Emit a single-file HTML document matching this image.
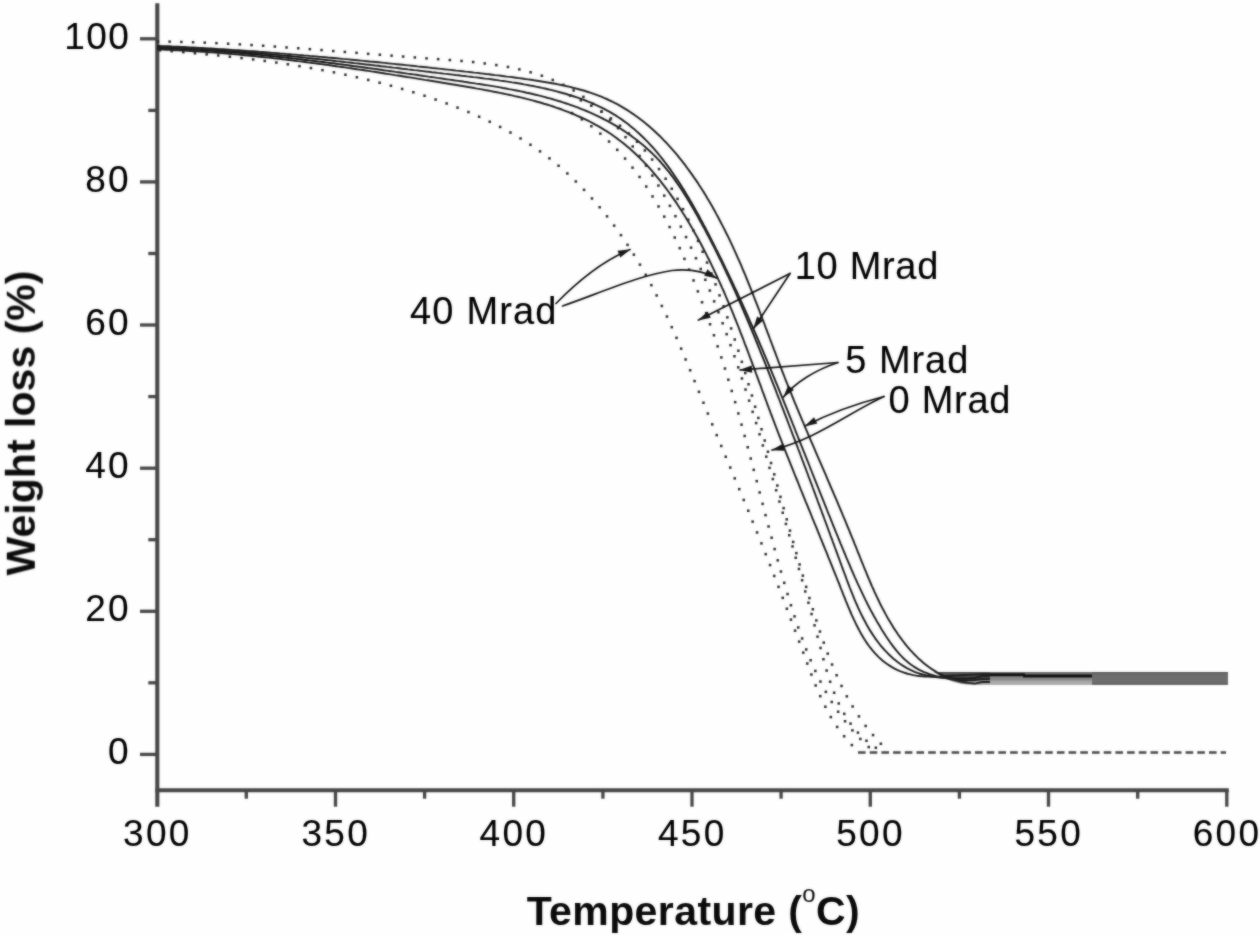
<!DOCTYPE html>
<html lang="en"><head><meta charset="utf-8"><title>Weight loss vs Temperature</title>
<style>html,body{margin:0;padding:0;background:#fff;overflow:hidden}svg{display:block}text{font-family:"Liberation Sans",sans-serif;fill:#000;stroke:#000;stroke-width:0.12px}.tk{font-size:37px;letter-spacing:2.3px}.lb{font-size:38px}.ti{font-size:41px;font-weight:bold;fill:#0a0a0a;stroke:none}</style></head><body>
<svg width="1260" height="935" viewBox="0 0 1260 935">
<defs><filter id="b" x="-2%" y="-2%" width="104%" height="104%" color-interpolation-filters="sRGB"><feGaussianBlur in="SourceGraphic" stdDeviation="0.9" result="bl"/><feComposite in="SourceGraphic" in2="bl" operator="arithmetic" k1="0" k2="0.45" k3="0.55" k4="0"/></filter><filter id="t" x="-2%" y="-2%" width="104%" height="104%" color-interpolation-filters="sRGB"><feGaussianBlur in="SourceGraphic" stdDeviation="0.9" result="bl"/><feComposite in="SourceGraphic" in2="bl" operator="arithmetic" k1="0" k2="0.5" k3="0.5" k4="0"/></filter></defs>
<rect width="1260" height="935" fill="#fefefe"/>
<g filter="url(#b)">
<g stroke="#464646" stroke-width="3.3" fill="none" stroke-linecap="butt">
<path d="M157.3 3.2V806.7" stroke-width="4.1"/>
<path d="M155.3 790.2H1228.8" stroke-width="4.1"/>
<path d="M140.0 38.8H157.3"/>
<path d="M140.0 181.9H157.3"/>
<path d="M140.0 325.0H157.3"/>
<path d="M140.0 468.2H157.3"/>
<path d="M140.0 611.3H157.3"/>
<path d="M140.0 754.4H157.3"/>
<path d="M148.3 110.4H157.3"/>
<path d="M148.3 253.5H157.3"/>
<path d="M148.3 396.6H157.3"/>
<path d="M148.3 539.7H157.3"/>
<path d="M148.3 682.8H157.3"/>
<path d="M335.5 790.2V806.7"/>
<path d="M513.7 790.2V806.7"/>
<path d="M692.0 790.2V806.7"/>
<path d="M870.3 790.2V806.7"/>
<path d="M1048.5 790.2V806.7"/>
<path d="M1226.8 790.2V806.7"/>
<path d="M246.3 790.2V798.7"/>
<path d="M424.6 790.2V798.7"/>
<path d="M602.9 790.2V798.7"/>
<path d="M781.1 790.2V798.7"/>
<path d="M959.4 790.2V798.7"/>
<path d="M1137.7 790.2V798.7"/>
</g>
<path d="M934 672.0 L1228 672.0 L1228 684.6 L970 684.6 C957 684 945 679.5 934 672.0Z" fill="#6d6d6d"/>
<path d="M934 672.0 L990 672.0 L990 680.5 L958 680.5 C949 679 941 676 934 672.0Z" fill="#4e4e4e"/>
<rect x="990" y="677.2" width="102" height="3.6" fill="#8a8a8a"/>
<path d="M966 680.6H1092V684.6H972C969.5 683.6 967.5 682.2 966 680.6Z" fill="#a9a9a9"/>
<path d="M1092 672.7H1228M1092 684H1228" stroke="#585858" stroke-width="1.4" fill="none"/>
<path d="M989 674.6H1025" stroke="#101010" stroke-width="2.6" fill="none"/>
<path d="M1023 676.0H1092" stroke="#101010" stroke-width="3.0" fill="none"/>
<g fill="#262626">
<rect x="158.7" y="49.0" width="2.5" height="2.5"/>
<rect x="170.4" y="49.9" width="2.5" height="2.5"/>
<rect x="182.1" y="50.9" width="2.5" height="2.5"/>
<rect x="193.7" y="52.0" width="2.5" height="2.5"/>
<rect x="205.4" y="53.1" width="2.5" height="2.5"/>
<rect x="217.0" y="54.2" width="2.5" height="2.5"/>
<rect x="228.6" y="55.5" width="2.5" height="2.5"/>
<rect x="240.3" y="56.8" width="2.5" height="2.5"/>
<rect x="251.9" y="58.2" width="2.5" height="2.5"/>
<rect x="263.5" y="59.7" width="2.5" height="2.5"/>
<rect x="275.1" y="61.3" width="2.5" height="2.5"/>
<rect x="286.6" y="63.0" width="2.5" height="2.5"/>
<rect x="298.2" y="64.9" width="2.5" height="2.5"/>
<rect x="309.7" y="66.8" width="2.5" height="2.5"/>
<rect x="321.2" y="68.9" width="2.5" height="2.5"/>
<rect x="332.7" y="71.1" width="2.5" height="2.5"/>
<rect x="344.2" y="73.5" width="2.5" height="2.5"/>
<rect x="355.6" y="76.0" width="2.5" height="2.5"/>
<rect x="367.0" y="78.7" width="2.5" height="2.5"/>
<rect x="378.4" y="81.5" width="2.5" height="2.5"/>
<rect x="389.7" y="84.5" width="2.5" height="2.5"/>
<rect x="400.9" y="87.7" width="2.5" height="2.5"/>
<rect x="412.1" y="91.0" width="2.5" height="2.5"/>
<rect x="423.3" y="94.5" width="2.5" height="2.5"/>
<rect x="434.4" y="98.3" width="2.5" height="2.5"/>
<rect x="445.4" y="102.2" width="2.5" height="2.5"/>
<rect x="456.3" y="106.4" width="2.5" height="2.5"/>
<rect x="467.2" y="110.8" width="2.5" height="2.5"/>
<rect x="477.9" y="115.5" width="2.5" height="2.5"/>
<rect x="488.5" y="120.5" width="2.5" height="2.5"/>
<rect x="498.9" y="125.7" width="2.5" height="2.5"/>
<rect x="509.2" y="131.3" width="2.5" height="2.5"/>
<rect x="519.3" y="137.2" width="2.5" height="2.5"/>
<rect x="529.2" y="143.5" width="2.5" height="2.5"/>
<rect x="538.8" y="150.1" width="2.5" height="2.5"/>
<rect x="548.2" y="157.1" width="2.5" height="2.5"/>
<rect x="557.3" y="164.5" width="2.5" height="2.5"/>
<rect x="566.1" y="172.2" width="2.5" height="2.5"/>
<rect x="574.6" y="180.2" width="2.5" height="2.5"/>
<rect x="582.8" y="188.6" width="2.5" height="2.5"/>
<rect x="590.7" y="197.2" width="2.5" height="2.5"/>
<rect x="598.4" y="206.0" width="2.5" height="2.5"/>
<rect x="605.8" y="215.1" width="2.5" height="2.5"/>
<rect x="612.9" y="224.4" width="2.5" height="2.5"/>
<rect x="619.7" y="233.9" width="2.5" height="2.5"/>
<rect x="626.3" y="243.6" width="2.5" height="2.5"/>
<rect x="632.6" y="253.4" width="2.5" height="2.5"/>
<rect x="638.7" y="263.4" width="2.5" height="2.5"/>
<rect x="644.5" y="273.6" width="2.5" height="2.5"/>
<rect x="650.1" y="283.9" width="2.5" height="2.5"/>
<rect x="655.4" y="294.2" width="2.5" height="2.5"/>
<rect x="660.6" y="304.7" width="2.5" height="2.5"/>
<rect x="665.7" y="315.3" width="2.5" height="2.5"/>
<rect x="670.5" y="325.9" width="2.5" height="2.5"/>
<rect x="675.3" y="336.6" width="2.5" height="2.5"/>
<rect x="679.9" y="347.4" width="2.5" height="2.5"/>
<rect x="684.4" y="358.2" width="2.5" height="2.5"/>
<rect x="688.9" y="369.0" width="2.5" height="2.5"/>
<rect x="693.3" y="379.8" width="2.5" height="2.5"/>
<rect x="697.7" y="390.6" width="2.5" height="2.5"/>
<rect x="702.2" y="401.5" width="2.5" height="2.5"/>
<rect x="706.6" y="412.3" width="2.5" height="2.5"/>
<rect x="711.0" y="423.1" width="2.5" height="2.5"/>
<rect x="715.5" y="433.9" width="2.5" height="2.5"/>
<rect x="720.0" y="444.7" width="2.5" height="2.5"/>
<rect x="724.5" y="455.5" width="2.5" height="2.5"/>
<rect x="729.0" y="466.3" width="2.5" height="2.5"/>
<rect x="733.5" y="477.1" width="2.5" height="2.5"/>
<rect x="738.0" y="487.9" width="2.5" height="2.5"/>
<rect x="742.5" y="498.7" width="2.5" height="2.5"/>
<rect x="747.0" y="509.5" width="2.5" height="2.5"/>
<rect x="751.4" y="520.4" width="2.5" height="2.5"/>
<rect x="755.8" y="531.2" width="2.5" height="2.5"/>
<rect x="760.2" y="542.1" width="2.5" height="2.5"/>
<rect x="764.5" y="552.9" width="2.5" height="2.5"/>
<rect x="768.8" y="563.8" width="2.5" height="2.5"/>
<rect x="773.0" y="574.7" width="2.5" height="2.5"/>
<rect x="777.3" y="585.6" width="2.5" height="2.5"/>
<rect x="781.5" y="596.6" width="2.5" height="2.5"/>
<rect x="785.6" y="607.5" width="2.5" height="2.5"/>
<rect x="789.7" y="618.4" width="2.5" height="2.5"/>
<rect x="793.8" y="629.4" width="2.5" height="2.5"/>
<rect x="797.9" y="640.4" width="2.5" height="2.5"/>
<rect x="802.0" y="651.4" width="2.5" height="2.5"/>
<rect x="806.0" y="662.3" width="2.5" height="2.5"/>
<rect x="810.1" y="673.3" width="2.5" height="2.5"/>
<rect x="814.4" y="684.2" width="2.5" height="2.5"/>
<rect x="819.0" y="694.9" width="2.5" height="2.5"/>
<rect x="824.1" y="705.5" width="2.5" height="2.5"/>
<rect x="829.6" y="715.8" width="2.5" height="2.5"/>
<rect x="835.9" y="725.7" width="2.5" height="2.5"/>
<rect x="842.9" y="735.0" width="2.5" height="2.5"/>
<rect x="850.6" y="743.8" width="2.5" height="2.5"/>
<rect x="570.8" y="111.8" width="2.5" height="2.5"/>
<rect x="580.6" y="118.1" width="2.5" height="2.5"/>
<rect x="590.1" y="125.0" width="2.5" height="2.5"/>
<rect x="599.1" y="132.4" width="2.5" height="2.5"/>
<rect x="607.8" y="140.3" width="2.5" height="2.5"/>
<rect x="616.0" y="148.6" width="2.5" height="2.5"/>
<rect x="623.8" y="157.3" width="2.5" height="2.5"/>
<rect x="631.3" y="166.4" width="2.5" height="2.5"/>
<rect x="638.3" y="175.7" width="2.5" height="2.5"/>
<rect x="645.0" y="185.3" width="2.5" height="2.5"/>
<rect x="651.3" y="195.2" width="2.5" height="2.5"/>
<rect x="657.3" y="205.2" width="2.5" height="2.5"/>
<rect x="663.0" y="215.4" width="2.5" height="2.5"/>
<rect x="668.4" y="225.8" width="2.5" height="2.5"/>
<rect x="673.5" y="236.3" width="2.5" height="2.5"/>
<rect x="678.5" y="246.9" width="2.5" height="2.5"/>
<rect x="683.2" y="257.6" width="2.5" height="2.5"/>
<rect x="687.8" y="268.4" width="2.5" height="2.5"/>
<rect x="692.3" y="279.2" width="2.5" height="2.5"/>
<rect x="696.6" y="290.1" width="2.5" height="2.5"/>
<rect x="700.8" y="301.0" width="2.5" height="2.5"/>
<rect x="704.9" y="311.9" width="2.5" height="2.5"/>
<rect x="708.8" y="323.0" width="2.5" height="2.5"/>
<rect x="712.7" y="334.0" width="2.5" height="2.5"/>
<rect x="716.4" y="345.1" width="2.5" height="2.5"/>
<rect x="720.1" y="356.2" width="2.5" height="2.5"/>
<rect x="723.7" y="367.3" width="2.5" height="2.5"/>
<rect x="727.1" y="378.5" width="2.5" height="2.5"/>
<rect x="730.5" y="389.7" width="2.5" height="2.5"/>
<rect x="733.9" y="400.9" width="2.5" height="2.5"/>
<rect x="737.1" y="412.2" width="2.5" height="2.5"/>
<rect x="740.3" y="423.4" width="2.5" height="2.5"/>
<rect x="743.4" y="434.7" width="2.5" height="2.5"/>
<rect x="746.5" y="446.0" width="2.5" height="2.5"/>
<rect x="749.5" y="457.3" width="2.5" height="2.5"/>
<rect x="752.5" y="468.6" width="2.5" height="2.5"/>
<rect x="755.5" y="479.9" width="2.5" height="2.5"/>
<rect x="758.4" y="491.2" width="2.5" height="2.5"/>
<rect x="761.4" y="502.6" width="2.5" height="2.5"/>
<rect x="764.3" y="513.9" width="2.5" height="2.5"/>
<rect x="767.3" y="525.2" width="2.5" height="2.5"/>
<rect x="770.4" y="536.5" width="2.5" height="2.5"/>
<rect x="773.4" y="547.8" width="2.5" height="2.5"/>
<rect x="776.5" y="559.1" width="2.5" height="2.5"/>
<rect x="779.7" y="570.3" width="2.5" height="2.5"/>
<rect x="783.0" y="581.6" width="2.5" height="2.5"/>
<rect x="786.3" y="592.8" width="2.5" height="2.5"/>
<rect x="789.7" y="604.0" width="2.5" height="2.5"/>
<rect x="793.3" y="615.1" width="2.5" height="2.5"/>
<rect x="797.0" y="626.2" width="2.5" height="2.5"/>
<rect x="800.9" y="637.2" width="2.5" height="2.5"/>
<rect x="805.0" y="648.2" width="2.5" height="2.5"/>
<rect x="809.4" y="659.0" width="2.5" height="2.5"/>
<rect x="814.1" y="669.7" width="2.5" height="2.5"/>
<rect x="819.2" y="680.3" width="2.5" height="2.5"/>
<rect x="824.6" y="690.6" width="2.5" height="2.5"/>
<rect x="830.5" y="700.7" width="2.5" height="2.5"/>
<rect x="836.9" y="710.5" width="2.5" height="2.5"/>
<rect x="843.8" y="720.0" width="2.5" height="2.5"/>
<rect x="851.2" y="729.1" width="2.5" height="2.5"/>
<rect x="859.1" y="737.7" width="2.5" height="2.5"/>
<rect x="867.5" y="745.8" width="2.5" height="2.5"/>
<rect x="156.7" y="40.3" width="2.5" height="2.5"/>
<rect x="168.4" y="40.4" width="2.5" height="2.5"/>
<rect x="180.1" y="40.7" width="2.5" height="2.5"/>
<rect x="191.8" y="41.0" width="2.5" height="2.5"/>
<rect x="203.5" y="41.4" width="2.5" height="2.5"/>
<rect x="215.2" y="41.9" width="2.5" height="2.5"/>
<rect x="226.9" y="42.5" width="2.5" height="2.5"/>
<rect x="238.6" y="43.1" width="2.5" height="2.5"/>
<rect x="250.3" y="43.8" width="2.5" height="2.5"/>
<rect x="261.9" y="44.5" width="2.5" height="2.5"/>
<rect x="273.6" y="45.3" width="2.5" height="2.5"/>
<rect x="285.3" y="46.2" width="2.5" height="2.5"/>
<rect x="297.0" y="47.0" width="2.5" height="2.5"/>
<rect x="308.6" y="47.9" width="2.5" height="2.5"/>
<rect x="320.3" y="48.8" width="2.5" height="2.5"/>
<rect x="332.0" y="49.8" width="2.5" height="2.5"/>
<rect x="343.6" y="50.7" width="2.5" height="2.5"/>
<rect x="355.3" y="51.6" width="2.5" height="2.5"/>
<rect x="366.9" y="52.6" width="2.5" height="2.5"/>
<rect x="378.6" y="53.5" width="2.5" height="2.5"/>
<rect x="390.3" y="54.4" width="2.5" height="2.5"/>
<rect x="401.9" y="55.3" width="2.5" height="2.5"/>
<rect x="413.6" y="56.2" width="2.5" height="2.5"/>
<rect x="425.3" y="57.1" width="2.5" height="2.5"/>
<rect x="436.9" y="57.9" width="2.5" height="2.5"/>
<rect x="448.6" y="58.8" width="2.5" height="2.5"/>
<rect x="460.3" y="59.7" width="2.5" height="2.5"/>
<rect x="471.9" y="60.8" width="2.5" height="2.5"/>
<rect x="483.5" y="62.2" width="2.5" height="2.5"/>
<rect x="495.1" y="63.8" width="2.5" height="2.5"/>
<rect x="506.7" y="65.7" width="2.5" height="2.5"/>
<rect x="518.1" y="68.1" width="2.5" height="2.5"/>
<rect x="529.4" y="71.0" width="2.5" height="2.5"/>
<rect x="540.6" y="74.5" width="2.5" height="2.5"/>
<rect x="551.5" y="78.7" width="2.5" height="2.5"/>
<rect x="562.2" y="83.6" width="2.5" height="2.5"/>
<rect x="572.4" y="89.2" width="2.5" height="2.5"/>
<rect x="582.2" y="95.6" width="2.5" height="2.5"/>
<rect x="591.6" y="102.6" width="2.5" height="2.5"/>
<rect x="600.5" y="110.2" width="2.5" height="2.5"/>
<rect x="608.9" y="118.4" width="2.5" height="2.5"/>
<rect x="616.8" y="126.9" width="2.5" height="2.5"/>
<rect x="624.3" y="135.9" width="2.5" height="2.5"/>
<rect x="631.5" y="145.2" width="2.5" height="2.5"/>
<rect x="638.3" y="154.7" width="2.5" height="2.5"/>
<rect x="644.8" y="164.4" width="2.5" height="2.5"/>
<rect x="651.1" y="174.3" width="2.5" height="2.5"/>
<rect x="657.2" y="184.3" width="2.5" height="2.5"/>
<rect x="663.0" y="194.4" width="2.5" height="2.5"/>
<rect x="668.7" y="204.6" width="2.5" height="2.5"/>
<rect x="674.2" y="214.9" width="2.5" height="2.5"/>
<rect x="679.6" y="225.4" width="2.5" height="2.5"/>
<rect x="684.8" y="235.8" width="2.5" height="2.5"/>
<rect x="689.8" y="246.4" width="2.5" height="2.5"/>
<rect x="694.7" y="257.0" width="2.5" height="2.5"/>
<rect x="699.5" y="267.7" width="2.5" height="2.5"/>
<rect x="704.1" y="278.5" width="2.5" height="2.5"/>
<rect x="708.6" y="289.3" width="2.5" height="2.5"/>
<rect x="712.9" y="300.1" width="2.5" height="2.5"/>
<rect x="717.2" y="311.0" width="2.5" height="2.5"/>
<rect x="721.4" y="322.0" width="2.5" height="2.5"/>
<rect x="725.4" y="332.9" width="2.5" height="2.5"/>
<rect x="729.3" y="343.9" width="2.5" height="2.5"/>
<rect x="733.2" y="355.0" width="2.5" height="2.5"/>
<rect x="737.0" y="366.1" width="2.5" height="2.5"/>
<rect x="740.7" y="377.2" width="2.5" height="2.5"/>
<rect x="744.3" y="388.3" width="2.5" height="2.5"/>
<rect x="747.9" y="399.4" width="2.5" height="2.5"/>
<rect x="751.4" y="410.6" width="2.5" height="2.5"/>
<rect x="754.9" y="421.8" width="2.5" height="2.5"/>
<rect x="758.3" y="433.0" width="2.5" height="2.5"/>
<rect x="761.6" y="444.2" width="2.5" height="2.5"/>
<rect x="765.0" y="455.4" width="2.5" height="2.5"/>
<rect x="768.3" y="466.6" width="2.5" height="2.5"/>
<rect x="771.6" y="477.8" width="2.5" height="2.5"/>
<rect x="774.9" y="489.0" width="2.5" height="2.5"/>
<rect x="778.2" y="500.3" width="2.5" height="2.5"/>
<rect x="781.5" y="511.5" width="2.5" height="2.5"/>
<rect x="784.7" y="522.7" width="2.5" height="2.5"/>
<rect x="788.0" y="534.0" width="2.5" height="2.5"/>
<rect x="791.3" y="545.2" width="2.5" height="2.5"/>
<rect x="794.5" y="556.5" width="2.5" height="2.5"/>
<rect x="797.7" y="567.7" width="2.5" height="2.5"/>
<rect x="800.9" y="579.0" width="2.5" height="2.5"/>
<rect x="804.0" y="590.2" width="2.5" height="2.5"/>
<rect x="807.2" y="601.5" width="2.5" height="2.5"/>
<rect x="810.3" y="612.8" width="2.5" height="2.5"/>
<rect x="813.3" y="624.1" width="2.5" height="2.5"/>
<rect x="816.3" y="635.4" width="2.5" height="2.5"/>
<rect x="819.3" y="646.7" width="2.5" height="2.5"/>
<rect x="822.2" y="658.0" width="2.5" height="2.5"/>
<rect x="825.4" y="669.3" width="2.5" height="2.5"/>
<rect x="828.9" y="680.5" width="2.5" height="2.5"/>
<rect x="832.9" y="691.5" width="2.5" height="2.5"/>
<rect x="837.5" y="702.2" width="2.5" height="2.5"/>
<rect x="843.0" y="712.6" width="2.5" height="2.5"/>
<rect x="849.3" y="722.4" width="2.5" height="2.5"/>
<rect x="856.7" y="731.4" width="2.5" height="2.5"/>
<rect x="865.2" y="739.5" width="2.5" height="2.5"/>
<rect x="874.6" y="746.5" width="2.5" height="2.5"/>
<rect x="568.9" y="94.4" width="2.5" height="2.5"/>
<rect x="579.6" y="99.1" width="2.5" height="2.5"/>
<rect x="590.0" y="104.5" width="2.5" height="2.5"/>
<rect x="600.1" y="110.5" width="2.5" height="2.5"/>
<rect x="609.7" y="117.1" width="2.5" height="2.5"/>
<rect x="618.8" y="124.4" width="2.5" height="2.5"/>
<rect x="627.6" y="132.2" width="2.5" height="2.5"/>
<rect x="635.8" y="140.5" width="2.5" height="2.5"/>
<rect x="643.6" y="149.2" width="2.5" height="2.5"/>
<rect x="650.9" y="158.3" width="2.5" height="2.5"/>
<rect x="657.8" y="167.8" width="2.5" height="2.5"/>
<rect x="664.4" y="177.5" width="2.5" height="2.5"/>
<rect x="670.5" y="187.5" width="2.5" height="2.5"/>
<rect x="676.3" y="197.6" width="2.5" height="2.5"/>
<rect x="681.8" y="207.9" width="2.5" height="2.5"/>
<rect x="687.0" y="218.4" width="2.5" height="2.5"/>
<rect x="692.0" y="229.0" width="2.5" height="2.5"/>
<rect x="696.8" y="239.7" width="2.5" height="2.5"/>
<rect x="701.4" y="250.5" width="2.5" height="2.5"/>
<rect x="705.8" y="261.3" width="2.5" height="2.5"/>
<rect x="710.1" y="272.2" width="2.5" height="2.5"/>
<rect x="714.3" y="283.1" width="2.5" height="2.5"/>
<rect x="718.3" y="294.1" width="2.5" height="2.5"/>
<rect x="722.3" y="305.1" width="2.5" height="2.5"/>
<rect x="726.1" y="316.1" width="2.5" height="2.5"/>
<rect x="729.9" y="327.2" width="2.5" height="2.5"/>
<rect x="733.5" y="338.3" width="2.5" height="2.5"/>
<rect x="737.1" y="349.5" width="2.5" height="2.5"/>
<rect x="740.6" y="360.6" width="2.5" height="2.5"/>
<rect x="744.0" y="371.8" width="2.5" height="2.5"/>
<rect x="747.3" y="383.0" width="2.5" height="2.5"/>
<rect x="750.7" y="394.3" width="2.5" height="2.5"/>
<rect x="753.9" y="405.5" width="2.5" height="2.5"/>
<rect x="757.1" y="416.7" width="2.5" height="2.5"/>
<rect x="760.3" y="428.0" width="2.5" height="2.5"/>
<rect x="763.5" y="439.3" width="2.5" height="2.5"/>
<rect x="766.7" y="450.5" width="2.5" height="2.5"/>
<rect x="769.8" y="461.8" width="2.5" height="2.5"/>
<rect x="773.0" y="473.1" width="2.5" height="2.5"/>
<rect x="776.1" y="484.3" width="2.5" height="2.5"/>
<rect x="779.2" y="495.6" width="2.5" height="2.5"/>
<rect x="782.4" y="506.9" width="2.5" height="2.5"/>
<rect x="785.5" y="518.1" width="2.5" height="2.5"/>
<rect x="788.7" y="529.4" width="2.5" height="2.5"/>
<rect x="791.9" y="540.7" width="2.5" height="2.5"/>
<rect x="795.1" y="551.9" width="2.5" height="2.5"/>
<rect x="798.3" y="563.2" width="2.5" height="2.5"/>
<rect x="801.6" y="574.4" width="2.5" height="2.5"/>
<rect x="804.9" y="585.6" width="2.5" height="2.5"/>
<rect x="808.2" y="596.8" width="2.5" height="2.5"/>
<rect x="811.6" y="608.0" width="2.5" height="2.5"/>
<rect x="815.1" y="619.2" width="2.5" height="2.5"/>
<rect x="818.7" y="630.3" width="2.5" height="2.5"/>
<rect x="822.5" y="641.4" width="2.5" height="2.5"/>
<rect x="826.5" y="652.4" width="2.5" height="2.5"/>
<rect x="830.8" y="663.3" width="2.5" height="2.5"/>
<rect x="835.4" y="674.0" width="2.5" height="2.5"/>
<rect x="840.3" y="684.7" width="2.5" height="2.5"/>
<rect x="845.6" y="695.1" width="2.5" height="2.5"/>
<rect x="851.4" y="705.2" width="2.5" height="2.5"/>
<rect x="857.7" y="715.1" width="2.5" height="2.5"/>
<rect x="864.4" y="724.7" width="2.5" height="2.5"/>
<rect x="871.8" y="733.8" width="2.5" height="2.5"/>
<rect x="879.6" y="742.5" width="2.5" height="2.5"/>
</g>
<path d="M858 752.5H1226" stroke="#444" stroke-width="2.5" stroke-dasharray="7.6 4.1" fill="none"/>
<g stroke="#1e1e1e" stroke-width="1.95" fill="none" stroke-linejoin="round">
<path d="M157.0 45.8L160.0 45.9L163.0 46.1L166.0 46.2L169.0 46.3L172.0 46.5L175.0 46.6L178.0 46.7L181.0 46.9L184.0 47.0L187.0 47.2L190.0 47.4L193.0 47.5L196.0 47.7L199.0 47.9L202.0 48.0L205.0 48.2L208.0 48.4L211.0 48.5L214.0 48.7L217.0 48.9L220.0 49.1L223.0 49.3L226.0 49.5L229.0 49.7L232.0 49.9L235.0 50.1L238.0 50.3L241.0 50.5L244.0 50.7L247.0 50.9L250.0 51.1L253.0 51.3L256.0 51.5L259.0 51.8L262.0 52.0L265.0 52.2L268.0 52.4L271.0 52.7L274.0 52.9L277.0 53.1L280.0 53.4L283.0 53.6L286.0 53.9L289.0 54.1L292.0 54.4L295.0 54.6L297.9 54.9L300.9 55.1L303.9 55.4L306.9 55.6L309.9 55.9L312.9 56.1L315.9 56.4L318.9 56.7L321.9 56.9L324.9 57.2L327.9 57.5L330.9 57.7L333.9 58.0L336.9 58.3L339.9 58.6L342.9 58.9L345.9 59.1L348.8 59.4L351.8 59.7L354.8 60.0L357.8 60.3L360.8 60.6L363.8 60.9L366.8 61.2L369.8 61.5L372.8 61.7L375.8 62.0L378.7 62.3L381.7 62.6L384.7 62.9L387.7 63.3L390.7 63.6L393.7 63.9L396.7 64.2L399.6 64.5L402.6 64.8L405.6 65.1L408.6 65.4L411.6 65.7L414.6 66.0L417.5 66.4L420.5 66.7L423.5 67.0L426.5 67.3L429.5 67.6L432.4 68.0L435.4 68.3L438.4 68.6L441.4 68.9L444.3 69.3L447.3 69.6L450.3 69.9L453.3 70.2L456.2 70.6L459.2 70.9L462.2 71.2L465.2 71.6L468.1 71.9L471.1 72.2L474.1 72.6L477.1 72.9L480.0 73.3L483.0 73.6L486.0 74.0L489.0 74.3L491.9 74.7L494.9 75.1L497.9 75.4L500.9 75.8L503.9 76.2L506.9 76.6L509.9 76.9L512.9 77.3L515.9 77.7L518.9 78.1L521.9 78.5L524.9 79.0L528.0 79.4L531.0 79.8L534.0 80.3L537.0 80.7L540.1 81.2L543.1 81.7L546.1 82.2L549.1 82.7L552.1 83.2L555.1 83.8L558.1 84.4L561.1 85.0L564.0 85.6L567.0 86.3L570.0 86.9L572.9 87.7L575.8 88.4L578.7 89.2L581.6 90.0L584.5 90.8L587.3 91.7L590.2 92.6L593.0 93.6L595.8 94.6L598.5 95.6L601.3 96.7L604.0 97.9L606.7 99.0L609.4 100.3L612.0 101.5L614.6 102.9L617.2 104.2L619.8 105.6L622.3 107.1L624.8 108.6L627.3 110.1L629.8 111.7L632.2 113.4L634.6 115.0L637.0 116.7L639.4 118.5L641.7 120.3L644.0 122.1L646.3 123.9L648.5 125.8L650.8 127.8L653.0 129.7L655.2 131.7L657.3 133.8L659.5 135.8L661.6 137.9L663.7 140.1L665.8 142.2L667.8 144.4L669.8 146.6L671.8 148.8L673.8 151.1L675.8 153.4L677.7 155.7L679.6 158.1L681.5 160.4L683.4 162.8L685.2 165.2L687.0 167.7L688.8 170.1L690.6 172.6L692.4 175.1L694.1 177.6L695.9 180.1L697.6 182.6L699.2 185.2L700.9 187.8L702.5 190.3L704.2 192.9L705.8 195.6L707.3 198.2L708.9 200.8L710.5 203.5L712.0 206.1L713.5 208.8L715.0 211.4L716.4 214.1L717.9 216.8L719.3 219.5L720.7 222.2L722.1 224.9L723.5 227.6L724.9 230.3L726.2 233.0L727.6 235.7L728.9 238.4L730.2 241.2L731.5 243.9L732.8 246.6L734.0 249.4L735.3 252.1L736.5 254.9L737.7 257.6L739.0 260.4L740.2 263.2L741.4 265.9L742.5 268.7L743.7 271.5L744.9 274.2L746.0 277.0L747.2 279.8L748.3 282.6L749.4 285.3L750.5 288.1L751.6 290.9L752.7 293.7L753.8 296.5L754.9 299.3L756.0 302.1L757.1 304.9L758.2 307.7L759.3 310.5L760.3 313.3L761.4 316.1L762.4 318.9L763.5 321.7L764.6 324.5L765.6 327.3L766.7 330.1L767.7 332.9L768.8 335.7L769.8 338.5L770.9 341.3L771.9 344.0L773.0 346.8L774.0 349.6L775.1 352.4L776.1 355.2L777.2 358.0L778.2 360.8L779.3 363.6L780.4 366.4L781.5 369.2L782.5 371.9L783.6 374.7L784.7 377.5L785.8 380.3L786.9 383.0L788.0 385.8L789.1 388.6L790.2 391.4L791.4 394.1L792.5 396.9L793.6 399.6L794.7 402.4L795.9 405.2L797.0 407.9L798.2 410.7L799.3 413.4L800.5 416.2L801.6 418.9L802.8 421.7L804.0 424.4L805.1 427.2L806.3 429.9L807.5 432.7L808.6 435.4L809.8 438.2L811.0 440.9L812.2 443.7L813.4 446.4L814.6 449.2L815.7 451.9L816.9 454.7L818.1 457.4L819.3 460.2L820.5 462.9L821.7 465.7L822.9 468.4L824.1 471.2L825.3 473.9L826.5 476.7L827.6 479.5L828.8 482.2L830.0 485.0L831.2 487.8L832.4 490.5L833.6 493.3L834.8 496.1L836.0 498.9L837.2 501.6L838.3 504.4L839.5 507.2L840.7 510.0L841.9 512.8L843.0 515.6L844.2 518.4L845.4 521.2L846.5 524.0L847.7 526.8L848.9 529.6L850.0 532.5L851.2 535.3L852.3 538.1L853.5 540.9L854.6 543.8L855.8 546.6L856.9 549.5L858.0 552.3L859.2 555.2L860.3 558.0L861.4 560.8L862.6 563.7L863.7 566.5L864.9 569.4L866.1 572.2L867.2 575.0L868.4 577.8L869.6 580.7L870.8 583.5L872.0 586.3L873.3 589.0L874.5 591.8L875.8 594.6L877.1 597.3L878.4 600.0L879.7 602.8L881.0 605.5L882.4 608.1L883.8 610.8L885.2 613.4L886.7 616.1L888.1 618.7L889.7 621.3L891.2 623.8L892.7 626.3L894.3 628.9L896.0 631.3L897.6 633.8L899.3 636.2L901.1 638.6L902.9 641.0L904.7 643.3L906.5 645.6L908.4 647.9L910.3 650.1L912.3 652.2L914.3 654.3L916.4 656.4L918.4 658.4L920.6 660.3L922.7 662.2L924.9 664.1L927.2 665.8L929.5 667.5L931.8 669.1L934.2 670.6L936.6 672.1L939.1 673.5L941.6 674.7L944.2 676.0L946.7 677.1L949.4 678.1L952.1 679.0L954.8 679.9L957.6 680.6L960.4 681.3L963.2 681.9L966.1 682.4L969.0 682.9L971.9 683.3L974.9 683.6L982.0 682.0L990.0 682.0"/>
<path d="M157.0 47.0L160.0 47.1L163.0 47.2L166.0 47.3L169.0 47.4L172.0 47.5L175.0 47.7L178.0 47.8L181.0 47.9L184.0 48.1L187.0 48.2L190.0 48.4L193.0 48.5L196.0 48.7L199.0 48.9L202.0 49.1L205.0 49.2L208.0 49.4L210.9 49.6L213.9 49.8L216.9 50.0L219.9 50.2L222.9 50.4L225.9 50.6L228.9 50.9L231.9 51.1L234.9 51.3L237.9 51.5L240.9 51.8L243.9 52.0L246.9 52.3L249.9 52.5L252.9 52.8L255.8 53.0L258.8 53.3L261.8 53.5L264.8 53.8L267.8 54.1L270.8 54.3L273.8 54.6L276.8 54.9L279.8 55.2L282.8 55.5L285.7 55.7L288.7 56.0L291.7 56.3L294.7 56.6L297.7 56.9L300.7 57.2L303.7 57.5L306.7 57.9L309.6 58.2L312.6 58.5L315.6 58.8L318.6 59.1L321.6 59.4L324.6 59.8L327.6 60.1L330.5 60.4L333.5 60.7L336.5 61.1L339.5 61.4L342.5 61.7L345.5 62.1L348.4 62.4L351.4 62.7L354.4 63.1L357.4 63.4L360.4 63.8L363.4 64.1L366.3 64.5L369.3 64.8L372.3 65.1L375.3 65.5L378.3 65.8L381.2 66.2L384.2 66.5L387.2 66.9L390.2 67.2L393.1 67.6L396.1 67.9L399.1 68.3L402.1 68.7L405.1 69.0L408.0 69.4L411.0 69.7L414.0 70.1L417.0 70.4L419.9 70.8L422.9 71.1L425.9 71.5L428.9 71.8L431.8 72.2L434.8 72.5L437.8 72.9L440.7 73.2L443.7 73.6L446.7 73.9L449.7 74.3L452.6 74.6L455.6 75.0L458.6 75.3L461.5 75.7L464.5 76.0L467.5 76.4L470.5 76.7L473.4 77.1L476.4 77.4L479.4 77.8L482.3 78.2L485.3 78.6L488.3 78.9L491.3 79.3L494.2 79.7L497.2 80.1L500.2 80.6L503.2 81.0L506.1 81.4L509.1 81.9L512.1 82.4L515.1 82.8L518.1 83.3L521.1 83.8L524.0 84.4L527.0 84.9L530.0 85.5L533.0 86.0L536.0 86.6L539.0 87.2L542.0 87.9L544.9 88.5L547.9 89.2L550.8 89.9L553.8 90.6L556.7 91.4L559.7 92.2L562.6 93.0L565.5 93.8L568.4 94.7L571.2 95.5L574.1 96.5L576.9 97.4L579.8 98.4L582.6 99.4L585.4 100.5L588.1 101.6L590.9 102.7L593.6 103.9L596.3 105.1L598.9 106.3L601.6 107.6L604.2 108.9L606.8 110.3L609.3 111.7L611.8 113.2L614.3 114.7L616.8 116.2L619.2 117.8L621.6 119.4L623.9 121.1L626.3 122.8L628.6 124.6L630.8 126.4L633.1 128.3L635.3 130.1L637.4 132.1L639.6 134.0L641.7 136.0L643.8 138.0L645.9 140.1L647.9 142.2L649.9 144.3L651.9 146.5L653.9 148.7L655.8 150.9L657.7 153.2L659.6 155.5L661.5 157.8L663.3 160.1L665.1 162.5L666.9 164.9L668.7 167.3L670.5 169.7L672.2 172.2L673.9 174.7L675.6 177.2L677.3 179.7L679.0 182.2L680.6 184.8L682.2 187.4L683.8 189.9L685.4 192.5L687.0 195.2L688.6 197.8L690.1 200.4L691.7 203.1L693.2 205.8L694.7 208.4L696.2 211.1L697.7 213.8L699.2 216.5L700.6 219.2L702.1 221.9L703.5 224.6L705.0 227.3L706.4 230.1L707.8 232.8L709.2 235.5L710.6 238.2L712.0 240.9L713.4 243.7L714.8 246.4L716.1 249.1L717.5 251.8L718.9 254.6L720.2 257.3L721.6 260.0L722.9 262.7L724.2 265.5L725.5 268.2L726.9 270.9L728.2 273.6L729.5 276.4L730.8 279.1L732.1 281.8L733.3 284.5L734.6 287.3L735.9 290.0L737.2 292.7L738.4 295.5L739.7 298.2L740.9 300.9L742.2 303.7L743.4 306.4L744.6 309.1L745.9 311.9L747.1 314.6L748.3 317.3L749.5 320.1L750.7 322.8L751.9 325.5L753.1 328.3L754.3 331.0L755.5 333.7L756.7 336.5L757.9 339.2L759.1 342.0L760.2 344.7L761.4 347.4L762.6 350.2L763.7 352.9L764.9 355.7L766.1 358.4L767.2 361.2L768.4 363.9L769.5 366.6L770.7 369.4L771.8 372.1L772.9 374.9L774.1 377.6L775.2 380.4L776.3 383.1L777.5 385.9L778.6 388.6L779.7 391.4L780.8 394.1L781.9 396.9L783.1 399.6L784.2 402.4L785.3 405.2L786.4 407.9L787.5 410.7L788.6 413.4L789.7 416.2L790.8 418.9L791.9 421.7L793.0 424.5L794.1 427.2L795.2 430.0L796.3 432.8L797.4 435.5L798.5 438.3L799.6 441.1L800.7 443.8L801.8 446.6L802.9 449.4L804.0 452.1L805.1 454.9L806.2 457.7L807.3 460.4L808.4 463.2L809.5 466.0L810.6 468.8L811.7 471.5L812.8 474.3L813.9 477.1L815.0 479.9L816.1 482.6L817.2 485.4L818.3 488.2L819.4 491.0L820.6 493.8L821.7 496.6L822.8 499.3L823.9 502.1L825.0 504.9L826.1 507.7L827.2 510.5L828.3 513.3L829.5 516.1L830.6 518.9L831.7 521.7L832.8 524.5L834.0 527.3L835.1 530.1L836.2 532.9L837.4 535.7L838.5 538.5L839.7 541.3L840.8 544.1L842.0 546.9L843.1 549.7L844.3 552.5L845.5 555.3L846.6 558.1L847.8 560.9L849.0 563.7L850.2 566.5L851.4 569.3L852.6 572.1L853.8 574.8L855.0 577.6L856.3 580.4L857.5 583.2L858.8 585.9L860.1 588.7L861.4 591.4L862.7 594.2L864.0 596.9L865.3 599.6L866.7 602.3L868.0 605.0L869.4 607.7L870.8 610.4L872.3 613.0L873.7 615.7L875.2 618.3L876.6 620.9L878.2 623.5L879.7 626.1L881.2 628.7L882.8 631.2L884.4 633.8L886.0 636.3L887.7 638.8L889.4 641.2L891.1 643.7L892.9 646.1L894.7 648.4L896.5 650.7L898.4 652.9L900.4 655.1L902.4 657.2L904.5 659.2L906.6 661.1L908.8 662.9L911.1 664.7L913.5 666.3L915.9 667.8L918.4 669.3L921.0 670.6L923.6 671.8L926.3 672.9L929.0 674.0L931.8 674.9L934.6 675.8L937.4 676.6L940.3 677.2L943.2 677.8L946.1 678.4L949.0 678.8L952.0 679.2L955.0 679.5L958.0 679.8L961.0 680.0L964.1 680.1L967.1 680.2L970.2 680.3L973.3 680.3L982.0 679.0L990.0 679.0"/>
<path d="M157.0 48.2L160.0 48.3L163.1 48.4L166.1 48.5L169.1 48.6L172.1 48.7L175.2 48.9L178.2 49.0L181.2 49.1L184.2 49.3L187.2 49.4L190.2 49.6L193.2 49.7L196.2 49.9L199.2 50.1L202.2 50.3L205.2 50.5L208.2 50.7L211.2 50.9L214.2 51.1L217.2 51.3L220.2 51.5L223.2 51.7L226.2 52.0L229.2 52.2L232.2 52.4L235.2 52.7L238.2 52.9L241.1 53.2L244.1 53.5L247.1 53.7L250.1 54.0L253.1 54.3L256.0 54.6L259.0 54.8L262.0 55.1L265.0 55.4L267.9 55.7L270.9 56.0L273.9 56.3L276.8 56.7L279.8 57.0L282.8 57.3L285.8 57.6L288.7 58.0L291.7 58.3L294.7 58.6L297.6 59.0L300.6 59.3L303.6 59.7L306.5 60.0L309.5 60.4L312.4 60.7L315.4 61.1L318.4 61.5L321.3 61.8L324.3 62.2L327.3 62.6L330.2 63.0L333.2 63.3L336.2 63.7L339.1 64.1L342.1 64.5L345.0 64.9L348.0 65.3L351.0 65.7L353.9 66.1L356.9 66.5L359.9 66.9L362.8 67.3L365.8 67.7L368.8 68.1L371.7 68.5L374.7 68.9L377.7 69.3L380.6 69.7L383.6 70.2L386.6 70.6L389.5 71.0L392.5 71.4L395.5 71.9L398.5 72.3L401.4 72.7L404.4 73.1L407.4 73.6L410.4 74.0L413.3 74.4L416.3 74.8L419.3 75.3L422.3 75.7L425.3 76.1L428.3 76.6L431.2 77.0L434.2 77.4L437.2 77.9L440.2 78.3L443.2 78.7L446.2 79.2L449.2 79.6L452.2 80.0L455.2 80.5L458.2 80.9L461.2 81.3L464.2 81.8L467.2 82.2L470.2 82.7L473.2 83.1L476.2 83.6L479.2 84.0L482.2 84.5L485.1 85.0L488.1 85.4L491.1 85.9L494.1 86.4L497.1 86.9L500.1 87.4L503.1 88.0L506.0 88.5L509.0 89.1L512.0 89.6L514.9 90.2L517.9 90.8L520.8 91.4L523.8 92.0L526.7 92.7L529.6 93.3L532.6 94.0L535.5 94.7L538.4 95.4L541.3 96.1L544.2 96.9L547.1 97.7L549.9 98.4L552.8 99.3L555.7 100.1L558.5 101.0L561.4 101.8L564.2 102.8L567.0 103.7L569.8 104.7L572.6 105.6L575.4 106.7L578.2 107.7L580.9 108.8L583.7 109.9L586.4 111.0L589.1 112.2L591.9 113.4L594.5 114.6L597.2 115.9L599.9 117.2L602.6 118.5L605.2 119.8L607.8 121.2L610.4 122.7L613.0 124.1L615.6 125.6L618.2 127.2L620.7 128.8L623.2 130.4L625.7 132.0L628.2 133.7L630.6 135.4L633.0 137.2L635.4 139.0L637.8 140.8L640.1 142.7L642.4 144.6L644.7 146.5L646.9 148.5L649.1 150.5L651.3 152.5L653.5 154.6L655.6 156.7L657.6 158.9L659.7 161.0L661.7 163.3L663.6 165.5L665.5 167.8L667.4 170.1L669.3 172.4L671.1 174.8L672.9 177.2L674.7 179.6L676.4 182.1L678.1 184.5L679.8 187.0L681.5 189.5L683.1 192.0L684.8 194.6L686.4 197.1L687.9 199.7L689.5 202.3L691.1 204.9L692.6 207.5L694.1 210.1L695.6 212.7L697.1 215.4L698.6 218.0L700.0 220.7L701.5 223.3L702.9 226.0L704.4 228.6L705.8 231.3L707.2 234.0L708.6 236.6L710.0 239.3L711.4 242.0L712.8 244.7L714.2 247.4L715.5 250.1L716.9 252.8L718.2 255.5L719.5 258.2L720.9 260.9L722.2 263.6L723.5 266.3L724.8 269.0L726.1 271.8L727.3 274.5L728.6 277.2L729.9 280.0L731.1 282.7L732.4 285.4L733.6 288.2L734.9 290.9L736.1 293.7L737.3 296.4L738.5 299.2L739.7 301.9L740.9 304.7L742.1 307.5L743.3 310.2L744.5 313.0L745.7 315.8L746.8 318.5L748.0 321.3L749.2 324.1L750.3 326.8L751.5 329.6L752.6 332.4L753.8 335.2L754.9 337.9L756.0 340.7L757.2 343.5L758.3 346.3L759.4 349.0L760.5 351.8L761.6 354.6L762.8 357.4L763.9 360.2L765.0 362.9L766.1 365.7L767.2 368.5L768.3 371.3L769.4 374.1L770.4 376.8L771.5 379.6L772.6 382.4L773.7 385.2L774.8 387.9L775.9 390.7L776.9 393.5L778.0 396.3L779.1 399.0L780.2 401.8L781.2 404.6L782.3 407.4L783.4 410.1L784.4 412.9L785.5 415.7L786.6 418.4L787.6 421.2L788.7 424.0L789.8 426.8L790.8 429.5L791.9 432.3L792.9 435.1L794.0 437.9L795.1 440.6L796.1 443.4L797.2 446.2L798.2 449.0L799.3 451.7L800.3 454.5L801.4 457.3L802.4 460.1L803.5 462.9L804.5 465.7L805.6 468.4L806.6 471.2L807.7 474.0L808.7 476.8L809.8 479.6L810.8 482.4L811.9 485.2L812.9 488.0L814.0 490.8L815.0 493.6L816.0 496.4L817.1 499.2L818.1 502.1L819.2 504.9L820.2 507.7L821.3 510.5L822.3 513.3L823.4 516.2L824.4 519.0L825.5 521.8L826.5 524.7L827.6 527.5L828.6 530.4L829.7 533.2L830.7 536.1L831.8 538.9L832.8 541.8L833.9 544.6L834.9 547.5L836.0 550.4L837.0 553.2L838.1 556.1L839.2 559.0L840.2 561.9L841.3 564.8L842.3 567.7L843.4 570.6L844.5 573.5L845.6 576.4L846.6 579.3L847.7 582.2L848.8 585.1L849.9 588.0L851.1 590.9L852.2 593.7L853.4 596.6L854.5 599.4L855.7 602.2L857.0 605.0L858.2 607.8L859.5 610.6L860.8 613.3L862.1 616.0L863.5 618.7L864.9 621.3L866.3 624.0L867.7 626.5L869.2 629.1L870.8 631.6L872.4 634.1L874.0 636.5L875.6 638.9L877.3 641.2L879.1 643.5L880.9 645.8L882.8 648.0L884.7 650.1L886.7 652.2L888.7 654.3L890.8 656.3L892.9 658.2L895.1 660.0L897.3 661.8L899.6 663.5L902.0 665.1L904.4 666.6L906.9 668.1L909.4 669.4L912.0 670.6L914.6 671.8L917.3 672.8L920.0 673.7L922.8 674.5L925.6 675.2L928.4 675.8L931.3 676.4L934.2 676.8L937.2 677.2L940.2 677.6L943.1 677.8L946.1 678.1L949.2 678.2L952.2 678.3L955.2 678.4L958.2 678.5L961.3 678.5L964.3 678.5L967.4 678.4L970.4 678.3L973.5 678.2L982.0 676.0L990.0 676.0"/>
<path d="M157.0 49.4L160.1 49.5L163.1 49.6L166.2 49.7L169.2 49.9L172.2 50.0L175.3 50.2L178.3 50.3L181.3 50.5L184.4 50.6L187.4 50.8L190.4 51.0L193.4 51.2L196.5 51.3L199.5 51.5L202.5 51.7L205.5 51.9L208.5 52.2L211.5 52.4L214.5 52.6L217.5 52.8L220.5 53.1L223.5 53.3L226.4 53.6L229.4 53.8L232.4 54.1L235.4 54.3L238.4 54.6L241.3 54.9L244.3 55.2L247.3 55.5L250.3 55.7L253.2 56.0L256.2 56.3L259.2 56.7L262.1 57.0L265.1 57.3L268.1 57.6L271.0 57.9L274.0 58.3L276.9 58.6L279.9 58.9L282.8 59.3L285.8 59.6L288.7 60.0L291.7 60.3L294.6 60.7L297.6 61.1L300.5 61.4L303.5 61.8L306.4 62.2L309.4 62.6L312.3 63.0L315.3 63.3L318.2 63.7L321.2 64.1L324.1 64.5L327.1 64.9L330.0 65.3L333.0 65.8L335.9 66.2L338.9 66.6L341.8 67.0L344.8 67.4L347.7 67.9L350.7 68.3L353.6 68.7L356.6 69.2L359.5 69.6L362.5 70.0L365.4 70.5L368.4 70.9L371.3 71.4L374.3 71.8L377.2 72.3L380.2 72.8L383.1 73.2L386.1 73.7L389.1 74.1L392.0 74.6L395.0 75.1L398.0 75.5L400.9 76.0L403.9 76.5L406.9 77.0L409.9 77.4L412.8 77.9L415.8 78.4L418.8 78.9L421.8 79.4L424.8 79.9L427.7 80.3L430.7 80.8L433.7 81.3L436.7 81.8L439.7 82.3L442.7 82.8L445.7 83.3L448.7 83.8L451.7 84.3L454.8 84.8L457.8 85.3L460.8 85.8L463.8 86.3L466.8 86.8L469.8 87.3L472.9 87.8L475.9 88.4L478.9 88.9L481.9 89.4L484.9 90.0L487.9 90.5L490.9 91.1L493.9 91.7L496.9 92.3L499.9 92.9L502.9 93.5L505.9 94.1L508.9 94.7L511.9 95.4L514.8 96.1L517.8 96.7L520.7 97.4L523.7 98.1L526.6 98.9L529.5 99.6L532.5 100.4L535.4 101.2L538.2 102.0L541.1 102.8L544.0 103.7L546.9 104.5L549.7 105.4L552.5 106.3L555.4 107.3L558.2 108.3L561.0 109.2L563.7 110.3L566.5 111.3L569.2 112.4L572.0 113.5L574.7 114.6L577.4 115.8L580.0 117.0L582.7 118.2L585.3 119.4L588.0 120.7L590.6 122.0L593.1 123.4L595.7 124.8L598.2 126.2L600.8 127.7L603.2 129.1L605.7 130.7L608.2 132.2L610.6 133.8L613.0 135.5L615.4 137.2L617.7 138.9L620.0 140.7L622.4 142.5L624.6 144.3L626.9 146.2L629.1 148.1L631.3 150.0L633.5 152.0L635.7 154.0L637.8 156.1L639.9 158.1L642.0 160.2L644.1 162.4L646.1 164.5L648.2 166.7L650.2 168.9L652.2 171.2L654.1 173.5L656.1 175.8L658.0 178.1L659.9 180.4L661.8 182.8L663.6 185.2L665.5 187.6L667.3 190.0L669.1 192.5L670.8 194.9L672.6 197.4L674.3 199.9L676.1 202.4L677.8 205.0L679.4 207.5L681.1 210.1L682.7 212.7L684.4 215.3L686.0 217.9L687.6 220.5L689.1 223.1L690.7 225.7L692.2 228.4L693.7 231.0L695.2 233.7L696.7 236.3L698.2 239.0L699.7 241.6L701.1 244.3L702.5 247.0L703.9 249.7L705.3 252.4L706.7 255.1L708.0 257.8L709.4 260.5L710.7 263.2L712.0 265.9L713.3 268.6L714.6 271.4L715.9 274.1L717.2 276.8L718.4 279.6L719.7 282.3L720.9 285.0L722.1 287.8L723.4 290.5L724.6 293.3L725.7 296.0L726.9 298.8L728.1 301.6L729.3 304.3L730.4 307.1L731.6 309.9L732.7 312.6L733.8 315.4L734.9 318.2L736.1 321.0L737.2 323.8L738.3 326.5L739.4 329.3L740.4 332.1L741.5 334.9L742.6 337.7L743.7 340.5L744.7 343.3L745.8 346.1L746.9 348.9L747.9 351.7L749.0 354.5L750.0 357.3L751.1 360.1L752.1 362.8L753.1 365.6L754.2 368.4L755.2 371.2L756.2 374.0L757.3 376.8L758.3 379.6L759.3 382.4L760.4 385.2L761.4 388.0L762.4 390.8L763.5 393.6L764.5 396.4L765.5 399.2L766.6 402.0L767.6 404.8L768.6 407.5L769.7 410.3L770.7 413.1L771.8 415.9L772.8 418.7L773.9 421.4L774.9 424.2L776.0 427.0L777.1 429.8L778.1 432.5L779.2 435.3L780.3 438.1L781.4 440.8L782.5 443.6L783.5 446.4L784.6 449.1L785.7 451.9L786.8 454.6L787.9 457.4L789.0 460.2L790.1 462.9L791.2 465.7L792.3 468.4L793.4 471.2L794.5 474.0L795.6 476.7L796.8 479.5L797.9 482.2L799.0 485.0L800.1 487.8L801.2 490.5L802.4 493.3L803.5 496.1L804.6 498.8L805.7 501.6L806.9 504.4L808.0 507.2L809.1 509.9L810.3 512.7L811.4 515.5L812.5 518.3L813.7 521.1L814.8 523.9L816.0 526.6L817.1 529.4L818.2 532.2L819.4 535.0L820.5 537.8L821.7 540.6L822.8 543.5L824.0 546.3L825.1 549.1L826.3 551.9L827.4 554.7L828.5 557.6L829.7 560.4L830.8 563.2L832.0 566.1L833.1 568.9L834.3 571.8L835.4 574.6L836.6 577.5L837.7 580.4L838.9 583.2L840.0 586.1L841.1 589.0L842.3 591.9L843.4 594.8L844.6 597.7L845.7 600.6L846.9 603.4L848.1 606.3L849.3 609.2L850.5 612.0L851.7 614.8L853.0 617.6L854.3 620.4L855.6 623.1L856.9 625.8L858.3 628.5L859.7 631.1L861.1 633.7L862.6 636.3L864.1 638.8L865.7 641.2L867.3 643.6L869.0 646.0L870.7 648.2L872.5 650.4L874.4 652.6L876.3 654.6L878.2 656.6L880.3 658.6L882.4 660.4L884.6 662.2L886.8 663.8L889.2 665.4L891.6 666.9L894.1 668.3L896.6 669.6L899.3 670.8L902.0 671.8L904.7 672.8L907.5 673.7L910.3 674.4L913.2 675.1L916.1 675.6L919.1 676.0L922.1 676.3L925.1 676.5L928.1 676.6L931.1 676.7L934.2 676.7L937.2 676.6L940.3 676.5L943.4 676.4L946.5 676.2L949.6 676.0L952.7 675.8L955.8 675.6L958.8 675.4L961.9 675.2L965.0 675.0L968.1 674.9L971.1 674.7L974.2 674.6L982.0 674.0L990.0 674.0"/>
</g>
<g stroke="#101010" stroke-width="1.7" fill="none" stroke-linecap="round">
<path d="M556 303.5C575 284 600 262 630 249.5"/>
<path d="M562.5 306C600 293 640 275 672 270.5C690 268.5 705 272 716.5 278"/>
<path d="M790 273.5L698.5 320"/>
<path d="M790 273.5L753.5 328.5"/>
<path d="M838 362.5L740 370"/>
<path d="M838 362.5C815 370 795 383 783.5 397"/>
<path d="M884 396.5C855 404 828 414 805 426"/>
<path d="M884 396.5C850 412 815 440 772 450"/>
</g>
<g fill="#151515">
<path d="M630.7 249.2L617.5 250.8L620.3 257.4Z"/>
<path d="M717.2 278.4L707.5 269.3L704.2 275.7Z"/>
<path d="M697.8 320.4L710.8 317.8L707.6 311.4Z"/>
<path d="M753.1 329.2L763.1 320.5L757.1 316.5Z"/>
<path d="M739.2 370.1L752.2 372.7L751.7 365.5Z"/>
<path d="M783.0 397.6L793.9 390.0L788.3 385.4Z"/>
<path d="M804.3 426.4L817.3 423.6L814.0 417.3Z"/>
<path d="M771.2 450.2L784.5 450.8L782.9 443.8Z"/>
</g>
</g><g filter="url(#t)">
<text class="tk" x="130.2" y="48.6" text-anchor="end" style="letter-spacing:1.4px">100</text>
<text class="tk" x="131.0" y="191.7" text-anchor="end">80</text>
<text class="tk" x="131.0" y="334.8" text-anchor="end">60</text>
<text class="tk" x="131.0" y="478.0" text-anchor="end">40</text>
<text class="tk" x="131.0" y="621.1" text-anchor="end">20</text>
<text class="tk" x="131.0" y="764.2" text-anchor="end">0</text>
<text class="tk" x="157.4" y="846.3" text-anchor="middle">300</text>
<text class="tk" x="335.7" y="846.3" text-anchor="middle">350</text>
<text class="tk" x="513.9" y="846.3" text-anchor="middle">400</text>
<text class="tk" x="692.2" y="846.3" text-anchor="middle">450</text>
<text class="tk" x="870.5" y="846.3" text-anchor="middle">500</text>
<text class="tk" x="1048.7" y="846.3" text-anchor="middle">550</text>
<text class="tk" x="1227.0" y="846.3" text-anchor="middle">600</text>
<text class="lb" x="410" y="324" textLength="146.5" lengthAdjust="spacing">40 Mrad</text>
<text class="lb" x="794.8" y="279" textLength="143.5" lengthAdjust="spacing">10 Mrad</text>
<text class="lb" x="845.3" y="372.5" textLength="123" lengthAdjust="spacing">5 Mrad</text>
<text class="lb" x="888.5" y="412.5" textLength="122" lengthAdjust="spacing">0 Mrad</text>
<text class="ti" x="526.7" y="925.4" textLength="333" lengthAdjust="spacing">Temperature (<tspan font-size="24" font-weight="normal" dy="-23.5">o</tspan><tspan dy="23.5">C)</tspan></text>
<text class="ti" transform="translate(34.8 575.5) rotate(-90)" textLength="305" lengthAdjust="spacing">Weight loss (%)</text>
</g>
</svg></body></html>
